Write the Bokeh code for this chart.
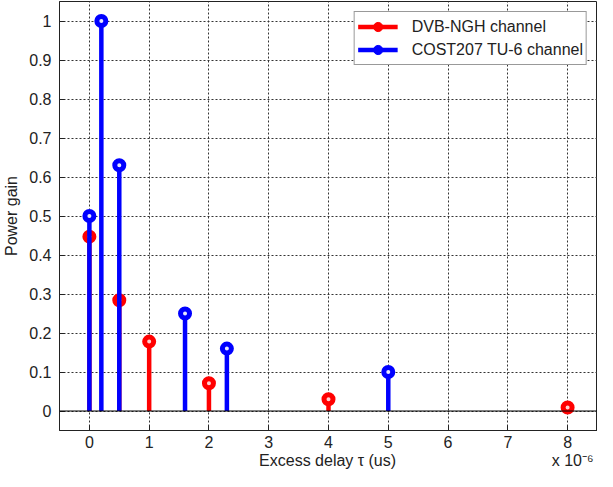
from bokeh.plotting import figure
from bokeh.models import Range1d, FixedTicker, Span, Legend, LegendItem
from bokeh.embed import file_html
from bokeh.resources import INLINE

# data (delays in microseconds)
dvb_delay = [0, 0.5, 1, 2, 4, 8]
dvb_power = [0.447, 0.284, 0.178, 0.071, 0.030, 0.009]
cost_delay = [0, 0.2, 0.5, 1.6, 2.3, 5.0]
cost_power = [0.5, 1.0, 0.63, 0.25, 0.16, 0.10]

x_ticks = [0, 1, 2, 3, 4, 5, 6, 7, 8]
y_ticks = [0, 0.1, 0.2, 0.3, 0.4, 0.5, 0.6, 0.7, 0.8, 0.9, 1.0]
y_tick_labels = ["0", "0.1", "0.2", "0.3", "0.4", "0.5", "0.6", "0.7", "0.8", "0.9", "1"]

x_label = "Excess delay τ (us)"
x_exponent = "x 10⁻⁶"

RED = "#ff0000"
BLUE = "#0000ff"
FONT = "Liberation Sans"
TXT = "#222222"
NB = "\u00a0"

p = figure(width=597, height=471, output_backend="svg", toolbar_location=None,
           x_range=Range1d(-0.5, 8.5), y_range=Range1d(-0.05, 1.05),
           min_border_left=53, min_border_right=0, min_border_top=1, min_border_bottom=10)

p.outline_line_color = "#222222"
p.outline_line_width = 1
p.background_fill_color = "white"
p.border_fill_color = "white"

# axes
p.xaxis.ticker = FixedTicker(ticks=x_ticks)
p.yaxis.ticker = FixedTicker(ticks=y_ticks)
p.yaxis.major_label_overrides = {t: l for t, l in zip(y_ticks, y_tick_labels)}
for ax in (p.xaxis[0], p.yaxis[0]):
    ax.axis_line_color = "#222222"
    ax.major_tick_in = 5
    ax.major_tick_out = 0
    ax.minor_tick_line_color = None
    ax.major_tick_line_color = "#222222"
    ax.major_label_text_font = FONT
    ax.major_label_text_font_size = "16px"
    ax.major_label_text_color = TXT
    ax.axis_label_text_font = FONT
    ax.axis_label_text_font_size = "16px"
    ax.axis_label_text_font_style = "normal"
    ax.axis_label_text_color = TXT
# x label centred under the frame, with the exponent note pushed to the right end
p.xaxis.axis_label = NB * 44 + x_label + NB * 35 + x_exponent
p.yaxis.axis_label = "Power gain"
p.xaxis.major_label_standoff = 5
p.xaxis.axis_label_standoff = 1
p.yaxis.major_label_standoff = 8
p.yaxis.axis_label_standoff = 6

# grid
for g in (p.xgrid[0], p.ygrid[0]):
    g.grid_line_color = "#333333"
    g.grid_line_dash = "2 2"
    g.grid_line_width = 1

# baseline
p.add_layout(Span(location=0, dimension="width", line_color="black", line_width=1.2))

# stems and markers (red below, blue on top)
dvb_seg = p.segment(x0=dvb_delay, y0=[0] * len(dvb_delay), x1=dvb_delay, y1=dvb_power,
                    line_color=RED, line_width=4.5)
dvb_pts = p.scatter(x=dvb_delay, y=dvb_power, marker="circle", size=9,
                    line_color=RED, line_width=5, fill_color="#ffd0d0")
cost_seg = p.segment(x0=cost_delay, y0=[0] * len(cost_delay), x1=cost_delay, y1=cost_power,
                     line_color=BLUE, line_width=4.5)
cost_pts = p.scatter(x=cost_delay, y=cost_power, marker="circle", size=9,
                     line_color=BLUE, line_width=5, fill_color="#e8e8ff")

# legend-only filled dots (placed outside the visible ranges)
dvb_dot = p.scatter(x=[-10], y=[-10], marker="circle", size=13, fill_color=RED, line_color=RED)
cost_dot = p.scatter(x=[-10], y=[-10], marker="circle", size=13, fill_color=BLUE, line_color=BLUE)

legend = Legend(items=[
    LegendItem(label="DVB-NGH channel", renderers=[dvb_seg, dvb_dot]),
    LegendItem(label="COST207 TU-6 channel", renderers=[cost_seg, cost_dot]),
], location="top_right")
legend.label_text_font = FONT
legend.label_text_font_size = "16px"
legend.label_text_color = TXT
legend.border_line_color = "#333333"
legend.border_line_width = 1
legend.background_fill_alpha = 1
legend.glyph_width = 40
legend.glyph_height = 23
legend.label_standoff = 14
legend.spacing = 0
legend.padding = 3
legend.margin = 10
p.add_layout(legend)

open("out.html", "w").write(file_html(p, INLINE))
